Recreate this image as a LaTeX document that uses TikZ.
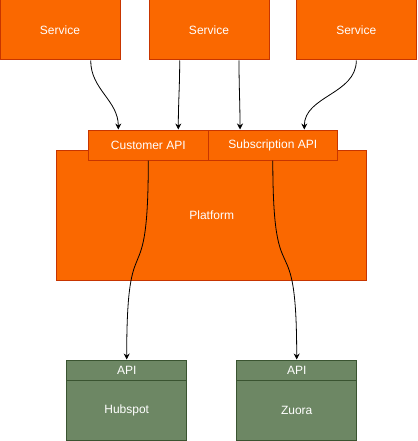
\documentclass[tikz,border=0pt]{standalone}
\usepackage{fontspec}
\setmainfont{Liberation Sans}
\usepackage{tikz}
\usetikzlibrary{arrows.meta}
\definecolor{drawOrange}{HTML}{FA6800}
\definecolor{drawOrangeLine}{HTML}{C73500}
\definecolor{drawGreen}{HTML}{6D8764}
\definecolor{drawGreenLine}{HTML}{3A5431}

\begin{document}
\begin{tikzpicture}[x=1pt,y=-1pt,
  every node/.style={font=\fontsize{12}{14}\selectfont,text=white,inner sep=0pt},
  orangebox/.style={draw=drawOrangeLine,fill=drawOrange,line width=1pt},
  greenbox/.style={draw=drawGreenLine,fill=drawGreen,line width=1pt},
  link/.style={black,line width=0.8pt,-{Stealth[length=6pt,width=6pt]}}]
\useasboundingbox (0,0) rectangle (417,441);
\node[orangebox,minimum width=120pt,minimum height=60pt] (svcA) at (60,30) {Service};
\node[orangebox,minimum width=120pt,minimum height=60pt] (svcB) at (209,30) {Service};
\node[orangebox,minimum width=120pt,minimum height=60pt] (svcC) at (356.3,30) {Service};
\node[orangebox,minimum width=310pt,minimum height=130pt] (platform) at (211.7,215) {Platform};
\node[orangebox,minimum width=120pt,minimum height=30pt] (custApi) at (148.3,145) {Customer API};
\node[orangebox,minimum width=129pt,minimum height=30pt] (subApi) at (272.8,145) {Subscription API};
\node[greenbox,minimum width=120pt,minimum height=20pt] (hubApi) at (126.7,370) {API};
\node[greenbox,minimum width=120pt,minimum height=60pt] (hubspot) at (126.7,410) {Hubspot};
\node[greenbox,minimum width=120pt,minimum height=20pt] (zuoApi) at (296.7,370) {API};
\node[greenbox,minimum width=120pt,minimum height=60pt] (zuora) at (296.7,410) {Zuora};
\draw[link] ([xshift=30.7pt]svcA.south) to[out=-90,in=90] ([xshift=-30pt]custApi.north);
\draw[link] ([xshift=-29.3pt]svcB.south) to[out=-90,in=90] ([xshift=30pt]custApi.north);
\draw[link] ([xshift=30pt]svcB.south) to[out=-90,in=90] ([xshift=-32.8pt]subApi.north);
\draw[link] (svcC.south) to[out=-90,in=90] ([xshift=31.5pt]subApi.north);
\draw[link] (custApi.south) .. controls ([yshift=-145pt]custApi.south) and ([yshift=145pt]hubApi.north) .. (hubApi.north);
\draw[link] (subApi.south) .. controls ([yshift=-145pt]subApi.south) and ([yshift=145pt]zuoApi.north) .. (zuoApi.north);
\end{tikzpicture}
\end{document}
